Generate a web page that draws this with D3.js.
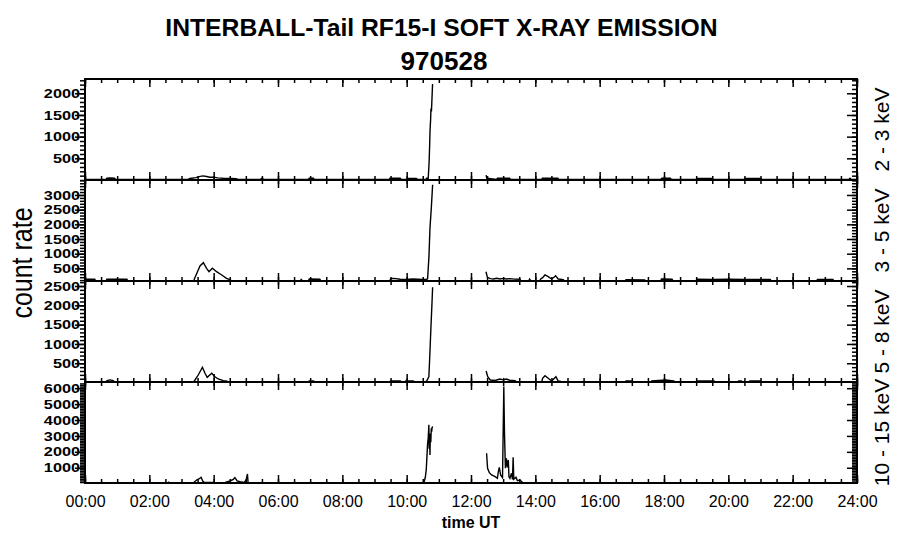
<!DOCTYPE html>
<html>
<head>
<meta charset="utf-8">
<script src="https://cdn.jsdelivr.net/npm/d3@7"></script>
<style>
  body { margin: 0; background: #fff; }
  svg { display: block; }
</style>
</head>
<body>
<div id="chart"></div>
<script>
// [hour UT, count rate]; null = data gap
const band23 = [
  [0.00, 15], [0.66, 15], [0.68, 40], [0.78, 45], [0.92, 40], [0.95, 15],
  [3.20, 15], [3.26, 35], [3.45, 55], [3.58, 85], [3.67, 95], [3.78, 80], [3.88, 65], [4.00, 65], [4.12, 50], [4.30, 40], [4.55, 35], [4.70, 30], [4.75, 15],
  [5.45, 15], [5.50, 40], [5.56, 15],
  [6.95, 15], [6.97, 40], [7.10, 40], [7.13, 15],
  [9.46, 15], [9.48, 40], [9.80, 40], [9.83, 15],
  [10.03, 15], [10.05, 35], [10.30, 35], [10.33, 15],
  [10.60, 15], [10.62, 40], [10.67, 40], [10.69, 300], [10.70, 460], [10.715, 800], [10.725, 1115], [10.745, 1400], [10.755, 1650], [10.77, 1580], [10.78, 1750], [10.805, 2215], null,
  [12.47, 115], [12.49, 40], [12.80, 15], [12.82, 40], [13.20, 40], [13.23, 15],
  [14.20, 15], [14.22, 40], [14.70, 40], [14.73, 15],
  [17.90, 15], [17.93, 40], [18.20, 40], [18.23, 15],
  [19.00, 15], [19.03, 35], [19.50, 35], [19.53, 15],
  [20.50, 15], [20.53, 35], [21.00, 35], [21.03, 15],
  [23.75, 15], [23.78, 40], [23.82, 15], [24.00, 15]
];
const band35 = [
  [0.00, 130], [0.30, 130], [0.33, 80],
  [0.66, 80], [0.68, 135], [1.30, 130], [1.33, 80],
  [3.38, 80], [3.40, 138], [3.52, 445], [3.575, 582], [3.68, 695], [3.78, 503], [3.855, 387], [3.96, 503], [4.09, 387], [4.25, 275], [4.40, 162], [4.48, 125], [4.55, 80],
  [6.70, 80], [6.72, 125], [6.76, 80],
  [6.95, 80], [6.97, 140], [7.30, 130], [7.33, 80],
  [9.48, 80], [9.50, 150], [9.60, 160], [9.80, 130], [9.95, 125], [10.20, 140], [10.50, 125], [10.60, 125], [10.65, 138], [10.693, 899], [10.724, 1868], [10.766, 2551], [10.807, 3346], null,
  [12.466, 386], [12.51, 196], [12.60, 150], [12.70, 138], [12.80, 162], [12.90, 138], [13.00, 160], [13.10, 140], [13.20, 150], [13.35, 135], [13.52, 130], [13.55, 80],
  [13.80, 80], [13.82, 135], [13.86, 80],
  [14.14, 80], [14.16, 130], [14.226, 183], [14.30, 275], [14.40, 217], [14.506, 138], [14.58, 196], [14.63, 251], [14.71, 138], [14.87, 115], [14.90, 80],
  [16.80, 80], [16.82, 115], [17.40, 110], [17.42, 80],
  [17.90, 80], [17.92, 138], [18.25, 130], [18.28, 80],
  [19.00, 80], [19.02, 130], [19.50, 125], [20.00, 130], [20.50, 125], [21.30, 125], [21.33, 80],
  [22.75, 80], [22.77, 125], [23.25, 120], [23.28, 80], [24.00, 80]
];
const band58 = [
  [0.00, 25], [0.66, 25], [0.68, 50], [0.78, 70], [0.88, 50], [0.90, 25],
  [3.38, 25], [3.40, 41], [3.52, 196], [3.65, 396], [3.73, 240], [3.80, 137], [3.94, 240], [4.04, 152], [4.14, 93], [4.30, 49], [4.40, 40], [4.43, 25],
  [6.95, 25], [6.97, 45], [7.10, 45], [7.13, 25],
  [9.48, 25], [9.50, 45], [9.80, 45], [9.83, 25],
  [9.95, 25], [9.97, 45], [10.20, 45], [10.23, 25],
  [10.60, 25], [10.62, 41], [10.69, 152], [10.72, 714], [10.755, 1448], [10.787, 2054], [10.807, 2468], null,
  [12.47, 300], [12.52, 150], [12.60, 67], [12.75, 55], [12.90, 93], [13.00, 70], [13.10, 93], [13.20, 60], [13.37, 50], [13.40, 25],
  [14.20, 25], [14.226, 111], [14.30, 178], [14.40, 111], [14.506, 41], [14.64, 152], [14.71, 41], [14.77, 35], [14.80, 25],
  [16.80, 25], [16.82, 45], [17.00, 45], [17.03, 25],
  [17.60, 25], [17.62, 45], [18.05, 67], [18.30, 45], [18.33, 25],
  [19.00, 25], [19.02, 45], [19.55, 45], [19.58, 25],
  [20.30, 25], [20.32, 45], [20.40, 45], [20.43, 25],
  [20.65, 25], [20.67, 45], [21.00, 45], [21.03, 25], [24.00, 25]
];
const band1015 = [
  [0.00, 45], [2.58, 45], [2.60, 90], [2.63, 45],
  [3.37, 59], [3.47, 229], [3.54, 291], [3.61, 398], [3.66, 166], [3.70, 84], [3.98, 70], [4.00, 45],
  [4.36, 70], [4.51, 166], [4.61, 270], [4.66, 374], [4.73, 166], [4.82, 122], [4.95, 70], [5.01, 229], [5.05, 606], [5.07, 59], [5.10, 45],
  [10.50, 45], [10.55, 150], [10.58, 400], [10.61, 900], [10.63, 1700], [10.65, 2500], [10.67, 2850], [10.69, 3700], [10.70, 2200], [10.715, 2750], [10.725, 1800], [10.735, 3150], [10.75, 2600], [10.765, 3480], [10.775, 3250], [10.79, 3500], [10.805, 3600], null,
  [12.485, 1908], [12.515, 965], [12.57, 688], [12.64, 543], [12.75, 436], [12.82, 335], [12.85, 751], [12.88, 1027], [12.92, 543], [12.98, 373], [13.02, 6100], [13.04, 3266], [13.07, 965], [13.10, 1593], [13.13, 1027], [13.16, 1487], [13.18, 436], [13.21, 335], [13.26, 650], [13.29, 272], [13.31, 1656], [13.33, 272], [13.40, 398], [13.44, 185], [13.52, 229], [13.62, 45], [24.00, 45]
];

const bands = [band23, band35, band58, band1015];
const bandLabels = ['2 - 3 keV', '3 - 5 keV', '5 - 8 keV', '10 - 15 keV'];
const yDomains = [[0, 2330], [70, 3510], [15, 2630], [40, 6390]];
const yMajorTicks = [
  [500, 1000, 1500, 2000],
  [500, 1000, 1500, 2000, 2500, 3000],
  [500, 1000, 1500, 2000, 2500],
  [1000, 2000, 3000, 4000, 5000, 6000]
];
const yMinorStep = 100;
const xMajorTicks = [0, 2, 4, 6, 8, 10, 12, 14, 16, 18, 20, 22, 24];
const xMinorStep = 0.5;

const title = 'INTERBALL-Tail RF15-I SOFT X-RAY EMISSION';
const subtitle = '970528';

// layout
const W = 900, H = 548;
const plotLeft = 85, plotTop = 79;
const plotW = 772, panelH = 101;
const sans = '"Liberation Sans", Arial, Helvetica, sans-serif';

const svg = d3.select('#chart').append('svg')
  .attr('width', W).attr('height', H);

const x = d3.scaleLinear().domain([0, 24]).range([0, plotW]);
const xMinor = d3.range(0, 24 + 1e-9, xMinorStep);
const fmtTime = (h) => d3.format('02d')(h) + ':00';

bands.forEach((data, i) => {
  const y = d3.scaleLinear().domain(yDomains[i]).range([panelH, 0]);
  const dom = yDomains[i];
  const yMinor = d3.range(Math.ceil(dom[0] / yMinorStep) * yMinorStep, dom[1], yMinorStep);

  const g = svg.append('g')
    .attr('transform', 'translate(' + plotLeft + ',' + (plotTop + i * panelH) + ')');

  g.append('clipPath').attr('id', 'clip' + i)
    .append('rect').attr('width', plotW).attr('height', panelH);

  // trace
  const line = d3.line()
    .defined((d) => d !== null)
    .x((d) => x(d[0]))
    .y((d) => y(d[1]));

  g.append('path')
    .datum(data)
    .attr('clip-path', 'url(#clip' + i + ')')
    .attr('fill', 'none')
    .attr('stroke', '#000')
    .attr('stroke-width', 1.4)
    .attr('d', line);

  // y ticks, left and right
  const yl = g.append('g').attr('class', 'ax').call(
    d3.axisLeft(y).tickValues(yMajorTicks[i]).tickSizeInner(10).tickSizeOuter(0)
      .tickFormat(d3.format('d')));
  // labels are drawn wide, like the IDL device font
  yl.selectAll('text')
    .attr('x', 0)
    .attr('transform', 'translate(-5,0) scale(1.25,1)')
    .attr('font-family', sans)
    .attr('font-weight', 'bold')
    .attr('font-size', 13);
  g.append('g').attr('class', 'ax').call(
    d3.axisLeft(y).tickValues(yMinor).tickSize(5).tickFormat(''));
  g.append('g').attr('class', 'ax').attr('transform', 'translate(' + plotW + ',0)').call(
    d3.axisRight(y).tickValues(yMajorTicks[i]).tickSizeInner(-10).tickSizeOuter(0).tickFormat(''));
  g.append('g').attr('class', 'ax').attr('transform', 'translate(' + plotW + ',0)').call(
    d3.axisRight(y).tickValues(yMinor).tickSizeInner(-5).tickSizeOuter(0).tickFormat(''));

  // x ticks, top and bottom
  g.append('g').attr('class', 'ax').call(
    d3.axisTop(x).tickValues(xMajorTicks).tickSizeInner(-8).tickSizeOuter(0).tickFormat(''));
  g.append('g').attr('class', 'ax').call(
    d3.axisTop(x).tickValues(xMinor).tickSizeInner(-4).tickSizeOuter(0).tickFormat(''));
  const xb = g.append('g').attr('class', 'ax').attr('transform', 'translate(0,' + panelH + ')').call(
    d3.axisBottom(x).tickValues(xMajorTicks).tickSizeInner(-8).tickSizeOuter(0).tickPadding(12.5)
      .tickFormat(i === bands.length - 1 ? fmtTime : ''));
  xb.selectAll('text')
    .attr('font-family', sans)
    .attr('font-size', 16);
  g.append('g').attr('class', 'ax').attr('transform', 'translate(0,' + panelH + ')').call(
    d3.axisBottom(x).tickValues(xMinor).tickSizeInner(-4).tickSizeOuter(0).tickFormat(''));

  // frame
  g.append('rect')
    .attr('width', plotW).attr('height', panelH)
    .attr('fill', 'none').attr('stroke', '#000').attr('stroke-width', 2);

  // band label
  svg.append('text')
    .attr('transform', 'translate(889,' + (plotTop + i * panelH + panelH / 2) + ') rotate(-90)')
    .attr('text-anchor', 'middle')
    .attr('font-family', sans)
    .attr('font-size', 21)
    .text(bandLabels[i]);
});

svg.selectAll('.ax .domain').remove();
svg.selectAll('.ax line').attr('stroke', '#000').attr('stroke-width', 1.5);
svg.selectAll('.ax text').attr('fill', '#000');

// titles
svg.append('text')
  .attr('x', 441.5).attr('y', 36)
  .attr('text-anchor', 'middle')
  .attr('font-family', sans)
  .attr('font-weight', 'bold')
  .attr('font-size', 24.7)
  .text(title);
svg.append('text')
  .attr('x', 444).attr('y', 70)
  .attr('text-anchor', 'middle')
  .attr('font-family', sans)
  .attr('font-weight', 'bold')
  .attr('font-size', 26)
  .text(subtitle);

// axis titles
svg.append('text')
  .attr('x', plotLeft + plotW / 2).attr('y', 527.5)
  .attr('text-anchor', 'middle')
  .attr('font-family', sans)
  .attr('font-weight', 'bold')
  .attr('font-size', 16)
  .text('time UT');
svg.append('text')
  .attr('transform', 'translate(32,263) scale(1.2,1) rotate(-90)')
  .attr('text-anchor', 'middle')
  .attr('font-family', sans)
  .attr('font-size', 25)
  .text('count rate');
</script>
</body>
</html>
